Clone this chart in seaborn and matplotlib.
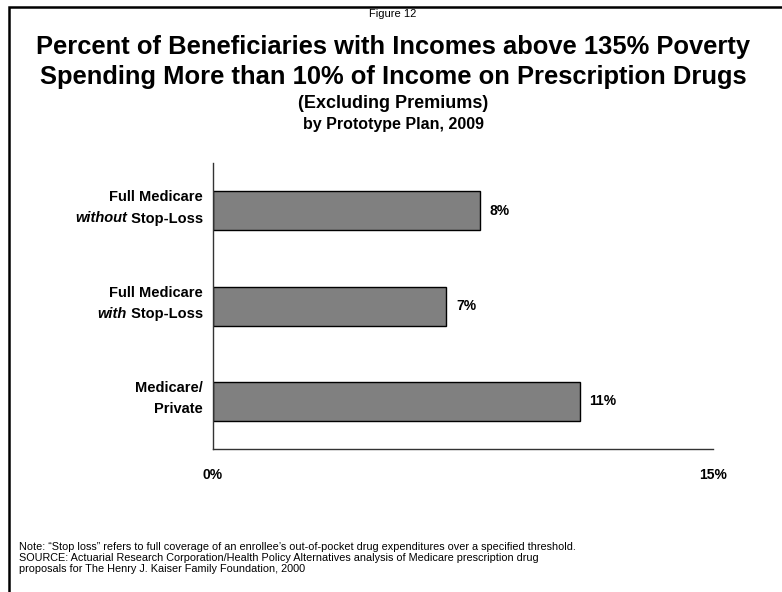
import matplotlib
matplotlib.use("Agg")
import matplotlib.pyplot as plt
from matplotlib.patches import Rectangle
import seaborn as sns
import pandas as pd

# Data
plans = ["without", "with", "private"]
line1 = ["Full Medicare", "Full Medicare", "Medicare/"]
italic_word = ["without", "with", ""]
line2_rest = [" Stop-Loss", " Stop-Loss", "Private"]
values = [8, 7, 11]
value_labels = ["8%", "7%", "11%"]
x_ticks = [0, 15]
x_tick_labels = ["0%", "15%"]

sns.set_theme(style="white")
plt.rcParams["font.family"] = ["Liberation Sans", "DejaVu Sans"]
plt.rcParams["text.color"] = "black"
plt.rcParams["xtick.color"] = "black"
plt.rcParams["ytick.color"] = "black"

W, H = 782, 592
fig = plt.figure(figsize=(W / 100, H / 100), dpi=100)
fig.patch.set_facecolor("white")

# frame (top and left edges visible)
fig.patches.append(Rectangle((9 / W, -0.1), 1.2, 1 - 7 / H + 0.1,
                             transform=fig.transFigure, fill=False,
                             edgecolor="black", linewidth=1.8, zorder=0))

ax = fig.add_axes([213 / W, 1 - 449 / H, 500 / W, 285.75 / H])
df = pd.DataFrame({"plan": plans, "value": values})
sns.barplot(data=df, x="value", y="plan", orient="h", color="#808080",
            saturation=1, edgecolor="black", linewidth=1.0, width=0.41, ax=ax)
for p in ax.patches:
    p.set_facecolor("#808080")

ax.set_xlim(0, 15)
ax.set_ylim(2.5, -0.5)
ax.set_xlabel("")
ax.set_ylabel("")
ax.set_xticks(x_ticks)
ax.set_xticklabels(x_tick_labels, fontsize=10, fontweight="bold")
ax.tick_params(axis="x", length=0, pad=14, colors="black")
ax.set_yticks([])
for s in ["top", "right"]:
    ax.spines[s].set_visible(False)
for s in ["left", "bottom"]:
    ax.spines[s].set_color("#333333")
    ax.spines[s].set_linewidth(1.0)

# value labels
for i, (v, lab) in enumerate(zip(values, value_labels)):
    ax.annotate(lab, (v, i), xytext=(7, 0), textcoords="offset points",
                ha="left", va="center", fontsize=10, fontweight="bold")

# category labels with italic word
fig.canvas.draw()
renderer = fig.canvas.get_renderer()
lx = 203 / W
for i in range(len(plans)):
    yc = 1 - (208 + 95.25 * i) / H
    fig.text(lx, yc + 10.5 / H, line1[i], ha="right", va="center",
             fontsize=10.5, fontweight="bold")
    t = fig.text(lx, yc - 10.5 / H, line2_rest[i], ha="right", va="center",
                 fontsize=10.5, fontweight="bold")
    if italic_word[i]:
        bb = t.get_window_extent(renderer)
        fig.text(bb.x0 / W, yc - 10.5 / H, italic_word[i], ha="right",
                 va="center", fontsize=10.5, fontweight="bold",
                 fontstyle="italic")

# titles
cx = 393 / W
fig.text(cx, 1 - 14 / H, "Figure 12", ha="center", va="center", fontsize=8)
fig.text(cx, 1 - 47 / H, "Percent of Beneficiaries with Incomes above 135% Poverty",
         ha="center", va="center", fontsize=18.4, fontweight="bold")
fig.text(cx, 1 - 77 / H, "Spending More than 10% of Income on Prescription Drugs",
         ha="center", va="center", fontsize=18.4, fontweight="bold")
fig.text(cx, 1 - 104 / H, "(Excluding Premiums)", ha="center", va="center",
         fontsize=13, fontweight="bold")
fig.text(cx, 1 - 124 / H, "by Prototype Plan, 2009", ha="center", va="center",
         fontsize=11.5, fontweight="bold")

# footnotes
notes = [
    "Note: \u201cStop loss\u201d refers to full coverage of an enrollee\u2019s out-of-pocket drug expenditures over a specified threshold.",
    "SOURCE: Actuarial Research Corporation/Health Policy Alternatives analysis of Medicare prescription drug",
    "proposals for The Henry J. Kaiser Family Foundation, 2000",
]
for k, n in enumerate(notes):
    fig.text(19 / W, 1 - (547 + 11 * k) / H, n, ha="left", va="center",
             fontsize=7.8)

fig.savefig("out.png", dpi=100)
